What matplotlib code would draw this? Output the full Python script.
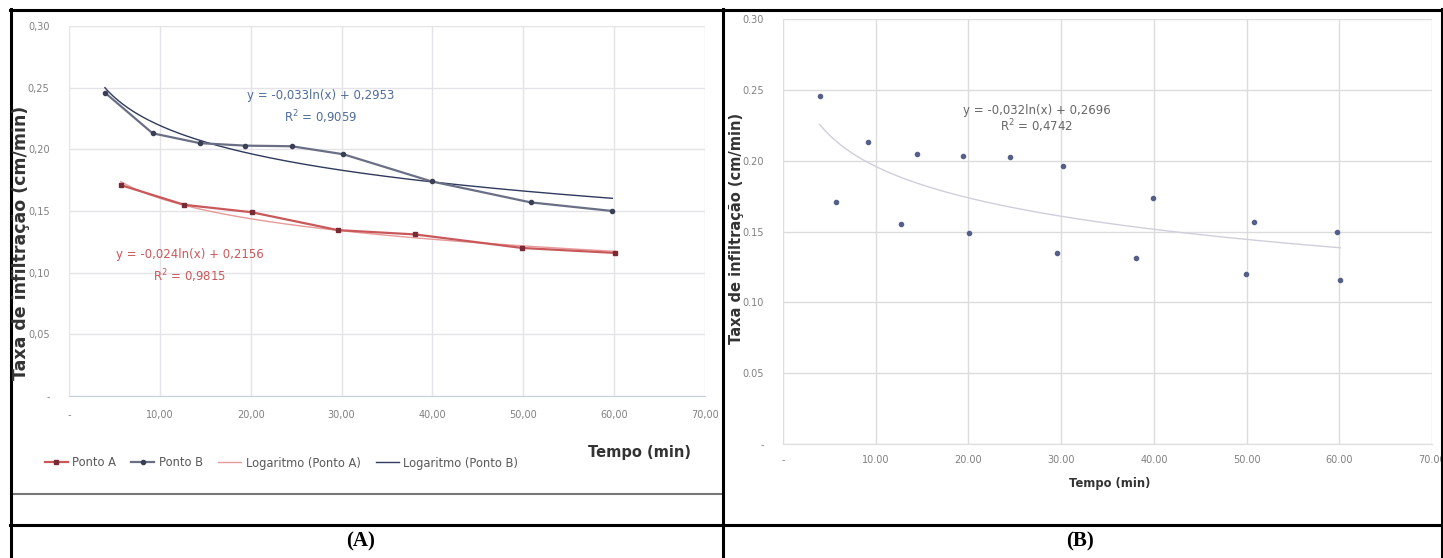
import numpy as np
import matplotlib
matplotlib.use("Agg")
import matplotlib.pyplot as plt
from matplotlib.lines import Line2D

# data (tempo in min, taxa in cm/min)
tempo_a = [5.7, 12.7, 20.1, 29.6, 38.1, 49.9, 60.1]
taxa_a = [0.171, 0.155, 0.149, 0.1345, 0.131, 0.120, 0.116]
tempo_b = [3.95, 9.2, 14.4, 19.4, 24.5, 30.2, 39.9, 50.8, 59.8]
taxa_b = [0.246, 0.213, 0.205, 0.203, 0.2025, 0.196, 0.174, 0.157, 0.150]

# trendline coefficients printed on the chart: y = a*ln(x) + b
fit_a = (-0.024, 0.2156)
fit_b = (-0.033, 0.2953)
fit_all = (-0.032, 0.2696)

xticks = [0, 10, 20, 30, 40, 50, 60, 70]
yticks = [0, 0.05, 0.10, 0.15, 0.20, 0.25, 0.30]
xlab_left = ['-', '10,00', '20,00', '30,00', '40,00', '50,00', '60,00', '70,00']
ylab_left = ['-', '0,05', '0,10', '0,15', '0,20', '0,25', '0,30']
xlab_right = ['-', '10.00', '20.00', '30.00', '40.00', '50.00', '60.00', '70.00']
ylab_right = ['-', '0.05', '0.10', '0.15', '0.20', '0.25', '0.30']

W, H = 1443, 558
fig = plt.figure(figsize=(W / 100, H / 100), dpi=100)
fig.patch.set_facecolor('white')

def px(x0, y0, x1, y1):
    # pixel box (top-left origin) -> figure fraction rect
    return [x0 / W, 1 - y1 / H, (x1 - x0) / W, (y1 - y0) / H]

def trend(coef, x0, x1):
    xs = np.linspace(x0, x1, 200)
    return xs, coef[0] * np.log(xs) + coef[1]

narrow = ['Liberation Sans Narrow', 'DejaVu Sans']

# ---------------- panel A ----------------
ax = fig.add_axes(px(69, 26, 705, 396))
ax.set_xlim(0, 70)
ax.set_ylim(0, 0.30)
ax.set_xticks(xticks)
ax.set_xticklabels(xlab_left)
ax.set_yticks(yticks)
ax.set_yticklabels(ylab_left)
ax.grid(True, color='#e3e3e8', lw=1)
ax.set_axisbelow(True)
for s in ['top', 'right', 'left']:
    ax.spines[s].set_visible(False)
ax.spines['bottom'].set_color('#c8d0e0')
ax.tick_params(length=0, labelsize=7, labelcolor='#808080')
ax.tick_params(axis='y', pad=14)
ax.tick_params(axis='x', pad=10)

ax.plot(tempo_a, taxa_a, color='#c9585a', lw=1.6, marker='s', ms=3.2,
        mfc='#7a2a35', mec='#7a2a35', label='Ponto A', zorder=3)
ax.plot(tempo_b, taxa_b, color='#6b6f85', lw=1.6, marker='o', ms=3,
        mfc='#3a3f55', mec='#3a3f55', label='Ponto B', zorder=3)
xs, ys = trend(fit_a, tempo_a[0], tempo_a[-1])
ax.plot(xs, ys, color='#e89a9a', lw=1, label='Logaritmo (Ponto A)', zorder=2)
xs, ys = trend(fit_b, tempo_b[0], tempo_b[-1])
ax.plot(xs, ys, color='#2f3a5c', lw=1, label='Logaritmo (Ponto B)', zorder=2)

ax.text(27.7, 0.2435, 'y = -0,033ln(x) + 0,2953', color='#4f6d9b', fontsize=8.5,
        ha='center', va='center')
ax.text(27.7, 0.226, 'R$^2$ = 0,9059', color='#4f6d9b', fontsize=8.5,
        ha='center', va='center')
ax.text(13.3, 0.1145, 'y = -0,024ln(x) + 0,2156', color='#c9585a', fontsize=8.5,
        ha='center', va='center')
ax.text(13.3, 0.0975, 'R$^2$ = 0,9815', color='#c9585a', fontsize=8.5,
        ha='center', va='center')

fig.text(21 / W, 1 - 243 / H, 'Taxa de infiltração (cm/min)', rotation=90,
         fontsize=12.5, fontweight='bold', color='#333333', ha='center', va='center')
fig.text(640 / W, 1 - 452 / H, 'Tempo (min)', fontsize=10.5, fontweight='bold',
         color='#333333', ha='center', va='center')
fig.legend(*ax.get_legend_handles_labels(), loc='center left',
           bbox_to_anchor=(40 / W, 1 - 463 / H), ncol=4, frameon=False,
           fontsize=8.3, labelcolor='#595959', handlelength=2.0,
           handletextpad=0.4, columnspacing=1.3, borderaxespad=0)

# ---------------- panel B ----------------
bx = fig.add_axes(px(783, 19, 1432, 444))
bx.set_xlim(0, 70)
bx.set_ylim(0, 0.30)
bx.set_xticks(xticks)
bx.set_xticklabels(xlab_right, family=narrow)
bx.set_yticks(yticks)
bx.set_yticklabels(ylab_right, family=narrow)
bx.grid(True, color='#dcdcdc', lw=1)
bx.set_axisbelow(True)
for s in ['top', 'right', 'left']:
    bx.spines[s].set_visible(False)
bx.spines['bottom'].set_color('#dcdcdc')
bx.tick_params(length=0, labelsize=7, labelcolor='#808080')
bx.tick_params(axis='y', pad=14)
bx.tick_params(axis='x', pad=8)

bx.scatter(tempo_a + tempo_b, taxa_a + taxa_b, s=9, color='#55608a', zorder=3)
xs, ys = trend(fit_all, min(tempo_b), max(tempo_a))
bx.plot(xs, ys, color='#cfcfdc', lw=1, zorder=2)
bx.text(27.4, 0.2355, 'y = -0,032ln(x) + 0,2696', color='#666666', fontsize=8.5,
        family=narrow, ha='center', va='center')
bx.text(27.4, 0.2245, 'R$^2$ = 0,4742', color='#666666', fontsize=8.5,
        family=narrow, ha='center', va='center')

fig.text(737 / W, 1 - 228 / H, 'Taxa de infiltração (cm/min)', rotation=90,
         fontsize=10.5, fontweight='bold', color='#333333', ha='center', va='center')
fig.text(1110 / W, 1 - 483 / H, 'Tempo (min)', fontsize=8.3, fontweight='bold',
         color='#333333', ha='center', va='center')

# ---------------- table frame ----------------
def hline(y, x0, x1, color='black', lw=2.2):
    fig.add_artist(Line2D([x0 / W, x1 / W], [1 - y / H, 1 - y / H], color=color, lw=lw))

def vline(x, y0, y1, color='black', lw=2.2):
    fig.add_artist(Line2D([x / W, x / W], [1 - y0 / H, 1 - y1 / H], color=color, lw=lw))

hline(10, 10, W)
hline(525, 10, W)
hline(494, 11, 722, color='#777777', lw=1.5)
vline(11, 9, H)
vline(723, 9, H)
vline(1442, 9, H)

fig.text(361 / W, 1 - 541 / H, '(A)', family='Liberation Serif', fontweight='bold',
         fontsize=15, ha='center', va='center')
fig.text(1080 / W, 1 - 541 / H, '(B)', family='Liberation Serif', fontweight='bold',
         fontsize=15, ha='center', va='center')

fig.savefig('out.png', dpi=100)
